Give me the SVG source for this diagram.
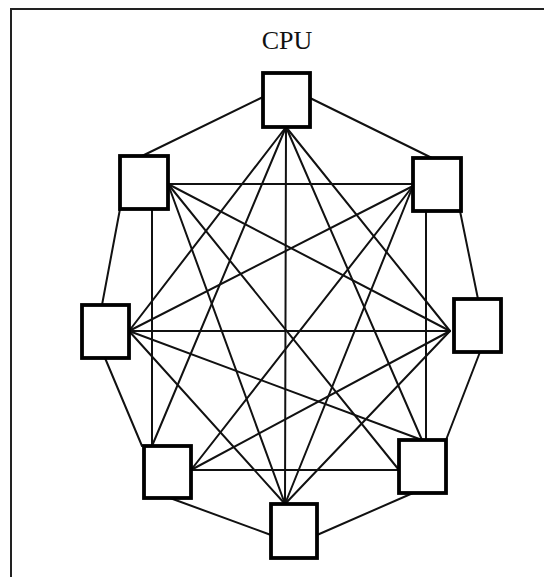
<svg xmlns="http://www.w3.org/2000/svg" width="544" height="577" viewBox="0 0 544 577">
  <style>
    .frame { fill: none; stroke: #222; stroke-width: 2; }
    .edge { stroke: #111; stroke-width: 2; fill: none; stroke-linecap: round; }
    .node rect { fill: #fff; stroke: #000; stroke-width: 3.8; }
    .title { font-family: "Liberation Serif", "Times New Roman", serif; font-size: 26px; fill: #111; }
  </style>
  <rect width="544" height="577" fill="#fff"/>
  <path class="frame" d="M11,577 V9 H544"/>
  <text class="title" x="287" y="49" text-anchor="middle">CPU</text>

  <g id="connectors">
    <!-- outer ring -->
    <line class="edge" x1="263" y1="97" x2="142" y2="156"/>
    <line class="edge" x1="310" y1="98" x2="432" y2="158"/>
    <line class="edge" x1="460" y1="211" x2="478" y2="299"/>
    <line class="edge" x1="480" y1="352" x2="446" y2="440"/>
    <line class="edge" x1="413" y1="493" x2="317" y2="535"/>
    <line class="edge" x1="271" y1="535" x2="170" y2="498"/>
    <line class="edge" x1="142" y1="446" x2="105" y2="358"/>
    <line class="edge" x1="102" y1="305" x2="120" y2="209"/>
    <!-- chords -->
    <line class="edge" x1="286" y1="127" x2="450" y2="331"/>
    <line class="edge" x1="286" y1="127" x2="422" y2="440"/>
    <line class="edge" x1="286" y1="127" x2="285" y2="504"/>
    <line class="edge" x1="286" y1="127" x2="152" y2="446"/>
    <line class="edge" x1="286" y1="127" x2="129" y2="331"/>
    <line class="edge" x1="168" y1="184" x2="413" y2="184"/>
    <line class="edge" x1="426" y1="211" x2="426" y2="440"/>
    <line class="edge" x1="413" y1="186" x2="285" y2="504"/>
    <line class="edge" x1="413" y1="186" x2="191" y2="470"/>
    <line class="edge" x1="413" y1="186" x2="129" y2="331"/>
    <line class="edge" x1="152" y1="209" x2="152" y2="446"/>
    <line class="edge" x1="168" y1="184" x2="450" y2="331"/>
    <line class="edge" x1="168" y1="184" x2="399" y2="470"/>
    <line class="edge" x1="168" y1="184" x2="285" y2="504"/>
    <line class="edge" x1="129" y1="331" x2="450" y2="331"/>
    <line class="edge" x1="129" y1="331" x2="422" y2="440"/>
    <line class="edge" x1="129" y1="331" x2="285" y2="504"/>
    <line class="edge" x1="450" y1="331" x2="285" y2="504"/>
    <line class="edge" x1="450" y1="331" x2="191" y2="470"/>
    <line class="edge" x1="191" y1="470" x2="399" y2="470"/>
  </g>

  <g id="n0" class="node"><rect x="263" y="73" width="47" height="54"/></g>
  <g id="n1" class="node"><rect x="413" y="158" width="48" height="53"/></g>
  <g id="n2" class="node"><rect x="454" y="299" width="47" height="53"/></g>
  <g id="n3" class="node"><rect x="399" y="440" width="47" height="53"/></g>
  <g id="n4" class="node"><rect x="271" y="504" width="46" height="54"/></g>
  <g id="n5" class="node"><rect x="144" y="446" width="47" height="52"/></g>
  <g id="n6" class="node"><rect x="82" y="305" width="47" height="53"/></g>
  <g id="n7" class="node"><rect x="120" y="156" width="48" height="53"/></g>
</svg>
